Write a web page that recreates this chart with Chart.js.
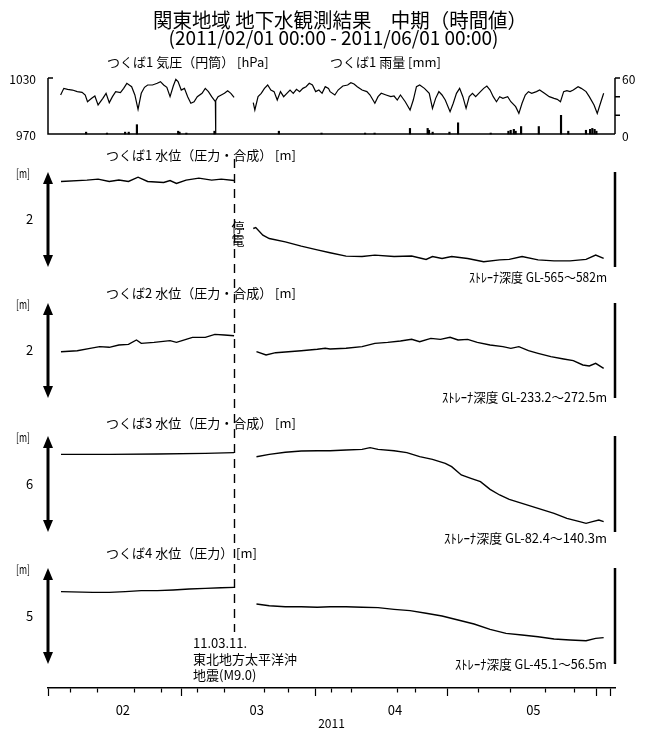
<!DOCTYPE html>
<html>
<head>
<meta charset="utf-8">
<script src="https://cdn.jsdelivr.net/npm/chart.js@4/dist/chart.umd.min.js"></script>
<style>
  html, body { margin: 0; padding: 0; background: #fff; }
  #wrap { position: relative; width: 659px; height: 731px; }
</style>
</head>
<body>
<div id="wrap"><canvas id="c" width="659" height="731"></canvas></div>
<script>
// ---- time axis: days since 2011/02/01 00:00 ----
const monthStartDays = [0, 28, 59, 89, 120];
const weekTickDays = [5, 12, 19, 26, 33, 40, 47, 54, 61, 68, 75, 82, 96, 103, 110, 117];
const monthMidDays = [14, 43.5, 74, 104.5];
const monthLabels = ['02', '03', '04', '05'];
const yearLabel = '2011';
const quakeDay = 38.615; // 2011/03/11 14:46

// ---- つくば1 気圧 [hPa] ----
const pressDay = [0.28, 0.99, 1.83, 2.89, 3.95, 5.01, 5.71, 6.21, 7.13, 7.83, 8.54, 9.59, 10.3, 11.01, 11.71, 12.42, 13.47, 14.18, 14.88, 15.94, 16.65, 17.35, 18.06, 18.77, 19.47, 20.53, 21.59, 22.29, 23.0, 23.7, 24.41, 25.12, 25.68, 26.17, 26.88, 27.58, 28.29, 28.99, 29.7, 30.41, 31.46, 32.17, 32.87, 33.58, 34.4, 34.45, 34.5, 34.99, 35.7, 36.4, 37.11, 37.81, 38.52,
  40.5,
  42.75, 43.1, 43.81, 44.51, 45.22, 45.93, 46.63, 47.34, 48.04, 48.75, 49.45, 50.16, 50.86, 51.57, 52.28, 52.98, 53.69, 54.39, 55.1, 55.8, 56.51, 57.22, 57.92, 58.62, 59.33, 59.68, 60.74, 61.45, 62.5, 63.56, 64.27, 64.97, 65.68, 66.74, 67.8, 68.5, 69.56, 70.26, 70.97, 72.03, 73.09, 73.79, 74.5, 75.2, 76.26, 77.32, 78.03, 78.73, 79.44, 80.49, 81.55, 82.26, 82.96, 83.67, 84.37, 85.08, 86.14, 86.84, 87.55, 88.25, 88.96, 89.67, 90.37, 91.08, 91.78, 92.84, 93.55, 94.25, 94.96, 95.66, 96.37, 97.07, 97.78, 98.84, 99.54, 100.6, 101.31, 102.01, 102.72, 103.42, 104.13, 105.19, 105.89, 106.95, 108.01, 109.07, 109.77, 110.48, 111.18, 111.89, 112.59, 113.3, 114.36, 115.06, 116.12, 116.83, 117.88, 118.59, 119.29, 120.0];
const pressHpa = [1011.8, 1018.9, 1017.9, 1017.1, 1015.4, 1014.6, 1011.8, 1004.6, 1008.2, 1010.7, 1001.1, 1008.2, 1013.6, 1003.6, 1010.0, 1015.4, 1014.3, 1018.9, 1024.3, 1020.7, 1011.8, 996.4, 1013.6, 1020.0, 1022.5, 1022.5, 1024.3, 1026.1, 1022.5, 1020.0, 1010.0, 1021.4, 1028.6, 1026.1, 1017.1, 1018.9, 1010.0, 1002.9, 1004.6, 1010.0, 1013.6, 1018.9, 1015.4, 1010.0, 1004.6, 970.0, 1005.7, 1010.0, 1011.8, 1013.6, 1016.4, 1013.6, 1009.3,
  null,
  1003.6, 995.7, 1010.0, 1013.6, 1018.9, 1022.5, 1017.1, 1015.4, 1006.4, 1015.4, 1010.0, 1013.6, 1017.1, 1013.6, 1017.9, 1015.4, 1018.9, 1020.7, 1024.3, 1022.5, 1015.4, 1017.1, 1013.6, 1020.7, 1018.9, 1015.4, 1011.8, 1017.1, 1021.4, 1022.5, 1025.0, 1023.6, 1020.7, 1017.1, 1015.4, 1011.8, 1002.9, 1010.0, 1013.6, 1011.8, 1010.0, 1010.7, 1006.4, 1011.8, 1004.6, 995.7, 1006.4, 1020.7, 1022.5, 1018.9, 1013.6, 997.5, 1008.2, 1015.4, 1011.8, 1006.4, 993.9, 1002.9, 1013.6, 1018.9, 1010.0, 997.5, 1010.0, 1013.6, 1010.0, 1015.4, 1018.9, 1021.4, 1017.1, 1010.0, 1004.6, 1010.0, 1008.2, 1010.0, 1004.6, 999.3, 992.1, 1002.9, 1011.8, 1015.4, 1013.6, 1015.4, 1017.1, 1013.6, 1010.0, 1008.2, 1007.1, 1004.6, 1015.4, 1016.4, 1015.4, 1017.1, 1020.7, 1018.9, 1015.4, 1010.0, 1001.1, 992.1, 1002.9, 1013.6];

// ---- つくば1 雨量 [mm] ----
const rainDay = [5.9, 10.5, 14.5, 15.3, 17.1, 26.2, 26.5, 28.0, 34.2, 48.4, 57.8, 67.4, 69.5, 77.3, 81.2, 81.5, 82.3, 86.0, 87.9, 95.1, 99.0, 99.5, 100.2, 100.6, 101.8, 105.7, 110.6, 112.2, 116.1, 117.0, 117.5, 118.0, 118.4];
const rainMm = [2, 1, 2, 2, 10, 3, 2, 1, 3, 3, 1, 1, 1, 6, 6, 4, 2, 2, 12, 1, 3, 4, 5, 3, 8, 8, 20, 3, 4, 5, 6, 5, 3];

// ---- つくば1 水位 [m] ----
const well1Day = [0.36, 6.08, 8.54, 11.01, 13.12, 15.24, 17.35, 19.47, 23.0, 24.41, 25.82, 27.94, 30.76, 33.58, 35.7, 38.52, 40.5, 42.75, 43.3, 44.87, 46.28, 49.81, 53.33, 56.86, 59.68, 63.21, 66.74, 69.56, 73.79, 77.67, 80.85, 82.26, 84.37, 86.49, 90.02, 93.55, 97.07, 99.19, 102.01, 105.54, 109.07, 112.59, 116.12, 118.24, 120.0];
const well1Level = [2.80, 2.83, 2.85, 2.80, 2.83, 2.80, 2.89, 2.80, 2.78, 2.82, 2.76, 2.83, 2.87, 2.83, 2.85, 2.82, null, 1.81, 1.83, 1.67, 1.60, 1.53, 1.44, 1.36, 1.30, 1.23, 1.22, 1.25, 1.22, 1.23, 1.16, 1.22, 1.18, 1.22, 1.18, 1.11, 1.15, 1.16, 1.22, 1.15, 1.13, 1.13, 1.16, 1.25, 1.18];

// ---- つくば2 水位 [m] ----
const well2Day = [0.36, 3.95, 6.77, 8.89, 11.01, 13.12, 15.24, 17.0, 18.06, 20.88, 24.41, 25.82, 27.94, 29.35, 32.17, 34.29, 36.4, 38.52, 40.5, 43.46, 45.57, 47.69, 50.51, 53.33, 56.86, 58.62, 59.68, 63.21, 66.74, 69.56, 72.38, 75.2, 77.67, 79.44, 81.9, 84.02, 86.14, 87.9, 90.02, 92.14, 94.96, 97.78, 99.54, 101.31, 103.42, 105.54, 108.36, 111.18, 113.3, 115.41, 116.83, 118.24, 120.0];
const well2Level = [1.975, 1.996, 2.046, 2.081, 2.067, 2.116, 2.130, 2.221, 2.151, 2.172, 2.207, 2.172, 2.235, 2.277, 2.277, 2.340, 2.326, 2.312, null, 1.975, 1.905, 1.954, 1.975, 1.996, 2.025, 2.046, 2.032, 2.046, 2.081, 2.151, 2.172, 2.200, 2.235, 2.186, 2.256, 2.235, 2.277, 2.221, 2.235, 2.172, 2.116, 2.081, 2.046, 2.081, 1.996, 1.940, 1.870, 1.821, 1.786, 1.695, 1.674, 1.730, 1.625];

// ---- つくば3 水位 [m] ----
const well3Day = [0.36, 11.01, 21.59, 32.17, 38.52, 40.5, 43.46, 46.28, 49.81, 53.33, 56.86, 59.68, 63.21, 66.74, 68.5, 70.26, 73.79, 76.61, 79.44, 82.26, 85.08, 86.49, 88.61, 90.73, 92.84, 94.96, 97.07, 99.19, 102.01, 105.54, 109.07, 111.89, 114.71, 116.12, 117.53, 118.94, 120.0];
const well3Level = [6.618, 6.618, 6.625, 6.639, 6.653, null, 6.569, 6.618, 6.660, 6.688, 6.694, 6.694, 6.708, 6.722, 6.757, 6.722, 6.694, 6.653, 6.569, 6.514, 6.431, 6.361, 6.188, 6.118, 6.049, 5.889, 5.771, 5.681, 5.597, 5.493, 5.389, 5.285, 5.215, 5.181, 5.215, 5.250, 5.215];

// ---- つくば4 水位 [m] ----
const well4Day = [0.36, 7.41, 11.01, 14.53, 18.06, 21.59, 25.12, 28.64, 32.17, 35.7, 38.52, 40.5, 43.46, 46.28, 49.81, 53.33, 56.86, 59.68, 63.21, 66.74, 70.26, 73.79, 77.32, 80.85, 84.37, 87.9, 91.43, 94.96, 98.48, 102.01, 105.54, 109.07, 112.59, 116.12, 118.24, 120.0];
const well4Level = [5.507, 5.493, 5.493, 5.507, 5.528, 5.528, 5.542, 5.563, 5.576, 5.590, 5.597, null, 5.250, 5.215, 5.194, 5.194, 5.181, 5.194, 5.194, 5.181, 5.174, 5.139, 5.111, 5.056, 5.000, 4.917, 4.833, 4.722, 4.639, 4.604, 4.569, 4.521, 4.500, 4.486, 4.535, 4.549];

// ---- layout ----
const AREA_TOP = 78, AREA_BOTTOM = 688;
const JP = '"Noto Sans CJK JP", "Noto Sans", sans-serif';

// Each panel lives in its own pixel band of the shared plot area;
// the axis limits are widened so that [vmin, vmax] lands in that band.
function bandLimits(vmin, vmax, top, bottom) {
  const k = (bottom - top) / (vmax - vmin);
  return { min: vmin - (AREA_BOTTOM - bottom) / k, max: vmax + (top - AREA_TOP) / k };
}

const wellPanels = [
  { axis: 'yWell1', vmin: 1, vmax: 3, mid: '2', top: 172, bottom: 267, title: 'つくば1 水位（圧力・合成） [m]', titleY: 155, titleW: 198, screen: 'ｽﾄﾚｰﾅ深度 GL-565～582m', screenY: 277, screenW: 138 },
  { axis: 'yWell2', vmin: 1, vmax: 3, mid: '2', top: 303, bottom: 398, title: 'つくば2 水位（圧力・合成） [m]', titleY: 293, titleW: 198, screen: 'ｽﾄﾚｰﾅ深度 GL-233.2～272.5m', screenY: 397, screenW: 165 },
  { axis: 'yWell3', vmin: 5, vmax: 7, mid: '6', top: 436, bottom: 532, title: 'つくば3 水位（圧力・合成） [m]', titleY: 423, titleW: 198, screen: 'ｽﾄﾚｰﾅ深度 GL-82.4～140.3m', screenY: 538, screenW: 163 },
  { axis: 'yWell4', vmin: 4, vmax: 6, mid: '5', top: 568, bottom: 664, title: 'つくば4 水位（圧力） [m]', titleY: 553, titleW: 160, screen: 'ｽﾄﾚｰﾅ深度 GL-45.1～56.5m', screenY: 664, screenW: 152 }
];

const pts = (days, vals) => days.map((d, i) => ({ x: d, y: vals[i] }));
const lineStyle = { borderColor: '#000', borderWidth: 1.4, pointRadius: 0, tension: 0, spanGaps: false, fill: false };

function drawText(ctx, str, x, y, size, align, maxW) {
  ctx.save();
  ctx.font = size + 'px ' + JP;
  ctx.fillStyle = '#000';
  ctx.textAlign = align;
  ctx.textBaseline = 'middle';
  if (maxW) ctx.fillText(str, x, y, maxW); else ctx.fillText(str, x, y);
  ctx.restore();
}

function drawDoubleArrow(ctx, x, y1, y2) {
  ctx.save();
  ctx.fillStyle = '#000';
  ctx.strokeStyle = '#000';
  ctx.lineWidth = 3;
  ctx.beginPath(); ctx.moveTo(x, y1 + 8); ctx.lineTo(x, y2 - 8); ctx.stroke();
  ctx.beginPath(); ctx.moveTo(x, y1); ctx.lineTo(x - 5, y1 + 12); ctx.lineTo(x + 5, y1 + 12); ctx.closePath(); ctx.fill();
  ctx.beginPath(); ctx.moveTo(x, y2); ctx.lineTo(x - 5, y2 - 12); ctx.lineTo(x + 5, y2 - 12); ctx.closePath(); ctx.fill();
  ctx.restore();
}

const decor = {
  id: 'decor',
  afterDraw(chart) {
    const ctx = chart.ctx;
    const xs = chart.scales.x;
    const ca = chart.chartArea;
    const left = ca.left, right = ca.right;

    // headings
    drawText(ctx, '関東地域 地下水観測結果　中期（時間値）', 340, 20, 20, 'center', 374);
    drawText(ctx, '(2011/02/01 00:00 - 2011/06/01 00:00)', 333.5, 38, 19, 'center', 343);

    // pressure / rainfall frame
    const ps = chart.scales.yPress, rs = chart.scales.yRain;
    const pTop = ps.getPixelForValue(1030), pBot = ps.getPixelForValue(970);
    ctx.save();
    ctx.strokeStyle = '#000';
    ctx.lineWidth = 1.5;
    ctx.beginPath();
    ctx.moveTo(left, pTop); ctx.lineTo(left, pBot); ctx.lineTo(right, pBot);
    ctx.moveTo(left, pTop); ctx.lineTo(left + 5, pTop);
    ctx.moveTo(right, rs.getPixelForValue(0)); ctx.lineTo(right, rs.getPixelForValue(60));
    [20, 40, 60].forEach(v => { const y = rs.getPixelForValue(v); ctx.moveTo(right, y); ctx.lineTo(right + 5, y); });
    ctx.stroke();
    ctx.restore();
    drawText(ctx, '1030', 36, pTop + 1, 12, 'right');
    drawText(ctx, '970', 36, pBot + 1, 12, 'right');
    drawText(ctx, '60', 622, rs.getPixelForValue(60) + 1, 12, 'left');
    drawText(ctx, '0', 622, rs.getPixelForValue(0) + 2, 12, 'left');
    drawText(ctx, 'つくば1 気圧（円筒） [hPa]', 107, 62, 13, 'left', 167);
    drawText(ctx, 'つくば1 雨量 [mm]', 330, 62, 13, 'left', 114);

    // groundwater panels
    wellPanels.forEach(p => {
      const s = chart.scales[p.axis];
      const yTop = s.getPixelForValue(p.vmax), yBot = s.getPixelForValue(p.vmin);
      drawDoubleArrow(ctx, left, yTop, yBot);
      ctx.save();
      ctx.strokeStyle = '#000'; ctx.lineWidth = 2.5;
      ctx.beginPath(); ctx.moveTo(right, yTop); ctx.lineTo(right, yBot); ctx.stroke();
      ctx.restore();
      drawText(ctx, '[m]', 16, yTop + 1, 12, 'left', 14);
      drawText(ctx, p.mid, 29.5, s.getPixelForValue((p.vmin + p.vmax) / 2), 13, 'center');
      drawText(ctx, p.title, 106, p.titleY, 13, 'left', p.titleW);
      drawText(ctx, p.screen, 607, p.screenY, 13, 'right', p.screenW);
    });

    // earthquake marker
    const qx = xs.getPixelForValue(quakeDay);
    ctx.save();
    ctx.strokeStyle = '#000'; ctx.lineWidth = 1.4;
    ctx.setLineDash([9, 6]);
    ctx.beginPath(); ctx.moveTo(qx, 159); ctx.lineTo(qx, 632); ctx.stroke();
    ctx.restore();
    drawText(ctx, '停', 238, 227, 13, 'center');
    drawText(ctx, '電', 238, 240, 13, 'center');
    drawText(ctx, '11.03.11.', 193, 643, 13, 'left', 60);
    drawText(ctx, '東北地方太平洋沖', 193, 659, 13, 'left', 104);
    drawText(ctx, '地震(M9.0)', 193, 675, 13, 'left', 64);
  }
};

const press = bandLimits(970, 1030, 78, 134);
const rain = bandLimits(0, 60, 78, 134);
const yScales = {
  yPress: { axis: 'y', position: 'left', display: false, min: press.min, max: press.max },
  yRain: { axis: 'y', position: 'right', display: false, min: rain.min, max: rain.max }
};
wellPanels.forEach(p => {
  const l = bandLimits(p.vmin, p.vmax, p.top, p.bottom);
  yScales[p.axis] = { axis: 'y', position: 'left', display: false, min: l.min, max: l.max };
});

const allTicks = [...monthStartDays, ...weekTickDays, ...monthMidDays].sort((a, b) => a - b);

new Chart(document.getElementById('c'), {
  type: 'line',
  data: {
    datasets: [
      { type: 'bar', label: 'つくば1 雨量', data: pts(rainDay, rainMm), yAxisID: 'yRain', backgroundColor: '#000', barThickness: 1.5, grouped: false },
      { label: 'つくば1 気圧', data: pts(pressDay, pressHpa), yAxisID: 'yPress', ...lineStyle, borderWidth: 1.2 },
      { label: 'つくば1 水位', data: pts(well1Day, well1Level), yAxisID: 'yWell1', ...lineStyle },
      { label: 'つくば2 水位', data: pts(well2Day, well2Level), yAxisID: 'yWell2', ...lineStyle },
      { label: 'つくば3 水位', data: pts(well3Day, well3Level), yAxisID: 'yWell3', ...lineStyle },
      { label: 'つくば4 水位', data: pts(well4Day, well4Level), yAxisID: 'yWell4', ...lineStyle }
    ]
  },
  options: {
    responsive: false,
    animation: false,
    devicePixelRatio: 1,
    layout: { padding: { top: AREA_TOP, left: 48, right: 44, bottom: 0 } },
    plugins: { legend: { display: false }, tooltip: { enabled: false } },
    scales: {
      x: {
        type: 'linear', position: 'bottom', min: 0, max: 120,
        afterBuildTicks: s => { s.ticks = allTicks.map(v => ({ value: v })); },
        afterFit: s => { s.height = 731 - AREA_BOTTOM; },
        border: { display: true, color: '#000', width: 1.5 },
        grid: {
          drawOnChartArea: false, drawTicks: true, tickLength: 8, tickWidth: 1.2,
          tickColor: c => (c.tick && monthMidDays.includes(c.tick.value)) ? 'rgba(0,0,0,0)' : '#000',
          tickBorderDash: c => (c.tick && weekTickDays.includes(c.tick.value)) ? [4, 40] : []
        },
        ticks: {
          autoSkip: false, maxRotation: 0, padding: 6, color: '#000',
          font: { family: JP, size: 13 },
          callback: v => { const i = monthMidDays.indexOf(v); return i >= 0 ? monthLabels[i] : ''; }
        },
        title: { display: true, text: yearLabel, color: '#000', font: { family: JP, size: 12 }, padding: { top: 0, bottom: 0 } }
      },
      ...yScales
    }
  },
  plugins: [decor]
});
</script>
</body>
</html>
